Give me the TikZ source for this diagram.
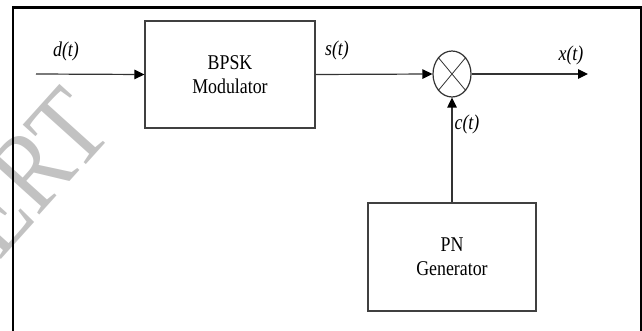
\documentclass[tikz,border=0pt]{standalone}
\usepackage{fontspec}
\setmainfont{Liberation Serif}[FakeStretch=0.85]
\usetikzlibrary{arrows.meta,shapes.geometric}
\begin{document}
\begin{tikzpicture}[x=1pt,y=-1pt,
  blockbox/.style={draw=black!75, line width=1.2pt, minimum width=170pt,
    minimum height=107pt, align=center, inner sep=0pt,
    font=\fontsize{21}{24}\selectfont},
  sig/.style={draw=black!80, line width=1.2pt},
  arr/.style={sig, -{Triangle[length=10pt,width=9.5pt,fill=black,color=black]}},
  lab/.style={font=\fontsize{21}{24}\selectfont\itshape, inner sep=0pt}]
\useasboundingbox (0,0) rectangle (642,331);

% faint watermark lettering behind the frame
\begin{scope}
  \clip (0,0) rectangle (642,331);
  \node[rotate=48, text=black!24, inner sep=0pt,
        font=\fontsize{112}{112}\selectfont] (wm) at (30,172) {ERT};
\end{scope}

% page frame (top, left and right edges)
\draw[line width=2.8pt] (13,331) -- (13,7.5) -- (641,7.5) -- (641,331);

% blocks
\node[blockbox] (mod) at (230,74.5) {BPSK\\Modulator};
\node[blockbox, minimum width=168pt, minimum height=108pt] (pn) at (452,257) {PN\\Generator};

% multiplier
\node[ellipse, sig, minimum width=38pt, minimum height=46pt, inner sep=0pt] (mix) at (452,74) {};
\draw[sig, line width=0.8pt] (mix.north west) -- (mix.south east)
                              (mix.north east) -- (mix.south west);

% signal flow
\coordinate (din) at (36,74);
\coordinate (xout) at (588,74);
\draw[arr] (din) -- (mod.west);
\draw[arr] (mod.east) -- (mix.west);
\draw[arr] (mix.east) -- (xout);
\draw[arr] (pn.north) -- (mix.south);

% signal labels
\node[lab] (dl) at (66,51) {d(t)};
\node[lab] (sl) at (337,50) {s(t)};
\node[lab] (xl) at (571,55) {x(t)};
\node[lab] (cl) at (467,124) {c(t)};
\end{tikzpicture}
\end{document}
